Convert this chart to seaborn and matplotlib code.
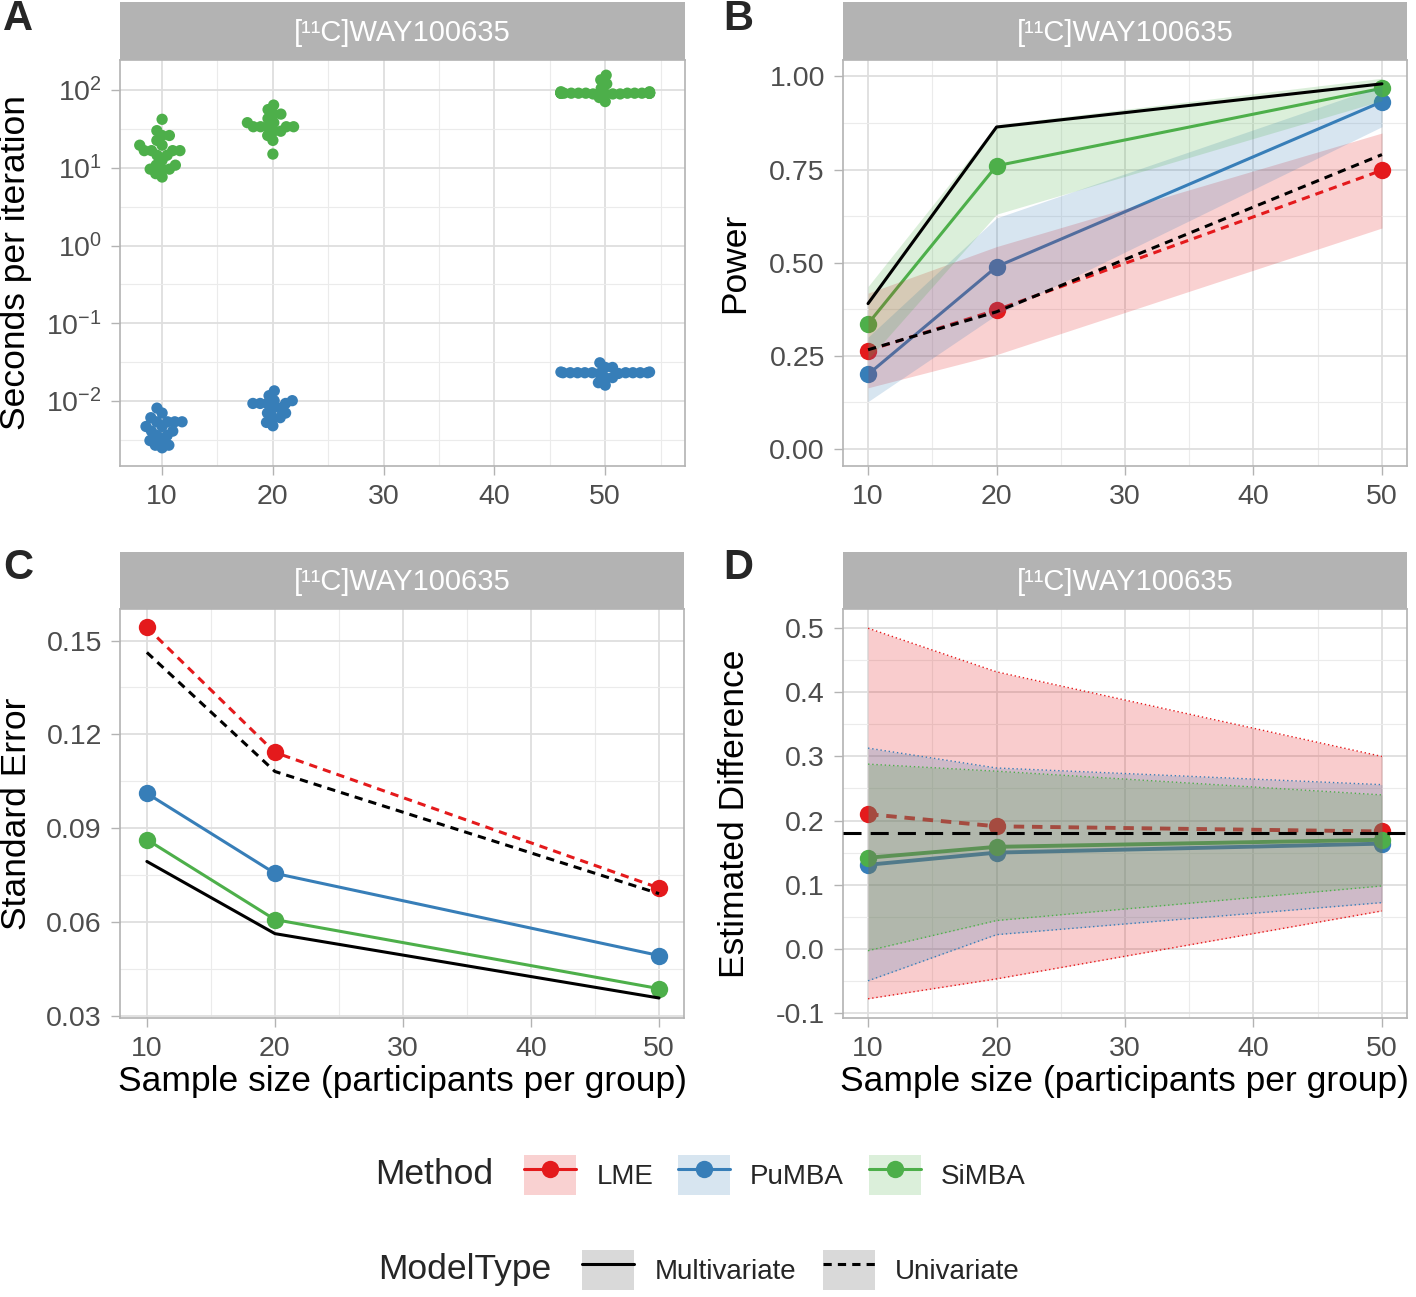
import numpy as np
import pandas as pd
import matplotlib
matplotlib.use('Agg')
import matplotlib.pyplot as plt
import seaborn as sns
from matplotlib.lines import Line2D
from matplotlib.patches import Patch
from matplotlib.legend_handler import HandlerTuple
from matplotlib.ticker import FixedLocator, NullFormatter

sns.set_style('white')
plt.rcParams['font.family'] = ['Liberation Sans', 'DejaVu Sans']
plt.rcParams['mathtext.fontset'] = 'custom'
plt.rcParams['mathtext.rm'] = 'Liberation Sans'
plt.rcParams['mathtext.it'] = 'Liberation Sans:italic'
plt.rcParams['mathtext.bf'] = 'Liberation Sans:bold'

# ---- data ----
sample_sizes = [10, 20, 50]
methods = ['LME', 'PuMBA', 'SiMBA']
model_type = {'LME': 'Univariate', 'PuMBA': 'Multivariate', 'SiMBA': 'Multivariate'}
colors = {'LME': '#E41A1C', 'PuMBA': '#377EB8', 'SiMBA': '#4DAF4A'}
tracer = '[¹¹C]WAY100635'

# A: seconds per iteration, swarm read as (value, count)
simba_10_sec = [42, 30, 26, 22.5, 19.5, 16.6, 14.5, 12.5, 10.8, 9.6, 8.4, 7.6]
simba_10_cnt = [1, 1, 2, 1, 2, 4, 2, 1, 2, 3, 1, 1]
simba_20_sec = [64, 56, 49, 43, 38, 33.7, 29.5, 26, 22.5, 15]
simba_20_cnt = [1, 1, 2, 1, 2, 5, 2, 1, 1, 1]
simba_50_sec = [155, 135, 120, 105, 95, 92.5, 91, 89, 80, 71]
simba_50_cnt = [1, 1, 1, 1, 2, 4, 14, 4, 1, 1]
pumba_10_sec = [0.0081, 0.007, 0.0061, 0.0054, 0.0047, 0.0041, 0.0036, 0.0031, 0.0027, 0.0025]
pumba_10_cnt = [1, 1, 1, 4, 2, 2, 2, 2, 2, 1]
pumba_20_sec = [0.0135, 0.0117, 0.0101, 0.0093, 0.0081, 0.007, 0.0061, 0.0053, 0.0048]
pumba_20_cnt = [1, 1, 2, 4, 2, 2, 2, 1, 1]
pumba_50_sec = [0.031, 0.027, 0.0236, 0.0231, 0.0226, 0.0200, 0.0172, 0.016]
pumba_50_cnt = [1, 2, 2, 9, 2, 2, 1, 1]

# B: power
power = {'LME': [0.264, 0.373, 0.748], 'PuMBA': [0.200, 0.489, 0.932], 'SiMBA': [0.336, 0.760, 0.968]}
power_lo = {'LME': [0.164, 0.253, 0.593], 'PuMBA': [0.127, 0.36, 0.865], 'SiMBA': [0.24, 0.63, 0.935]}
power_hi = {'LME': [0.418, 0.543, 0.848], 'PuMBA': [0.30, 0.62, 0.975], 'SiMBA': [0.436, 0.87, 0.995]}
power_ref_multi = [0.390, 0.864, 0.980]
power_ref_uni = [0.266, 0.368, 0.790]

# C: standard error
se = {'LME': [0.1542, 0.1142, 0.0708], 'PuMBA': [0.1011, 0.0755, 0.0492], 'SiMBA': [0.0863, 0.0607, 0.0386]}
se_ref_multi = [0.0793, 0.0562, 0.0356]
se_ref_uni = [0.1462, 0.1081, 0.0690]

# D: estimated difference
est = {'LME': [0.210, 0.191, 0.183], 'PuMBA': [0.131, 0.150, 0.164], 'SiMBA': [0.142, 0.159, 0.170]}
est_lo = {'LME': [-0.078, -0.047, 0.059], 'PuMBA': [-0.050, 0.022, 0.072], 'SiMBA': [-0.003, 0.044, 0.098]}
est_hi = {'LME': [0.500, 0.432, 0.300], 'PuMBA': [0.313, 0.282, 0.256], 'SiMBA': [0.288, 0.277, 0.240]}
true_diff = 0.18

# ---- layout helpers ----
W, H = 1416, 1297
fig = plt.figure(figsize=(W / 100, H / 100), dpi=100)


def box(l, t, r, b):
    return [l / W, 1 - b / H, (r - l) / W, (b - t) / H]


def add_strip(l, t, r, b):
    sax = fig.add_axes(box(l, t, r, b))
    sax.set_facecolor('#b3b3b3')
    sax.set_xticks([])
    sax.set_yticks([])
    for s in sax.spines.values():
        s.set_visible(False)
    sax.text(0.5, 0.47, tracer, color='white', fontsize=21, ha='center', va='center',
             transform=sax.transAxes)


def style_panel(ax, xlim, ylim, yticks, yminor, xminor):
    ax.set_xlim(xlim)
    ax.set_ylim(ylim)
    ax.set_xticks([10, 20, 30, 40, 50])
    ax.set_yticks(yticks)
    ax.xaxis.set_minor_locator(FixedLocator(xminor))
    ax.yaxis.set_minor_locator(FixedLocator(yminor))
    ax.yaxis.set_minor_formatter(NullFormatter())
    ax.grid(which='major', color='#dedede', lw=1.3)
    ax.grid(which='minor', color='#ebebeb', lw=0.8)
    ax.set_axisbelow(True)
    for s in ax.spines.values():
        s.set_color('#b3b3b3')
        s.set_linewidth(1.2)
    ax.tick_params(which='major', bottom=True, left=True, length=6.5, width=1, color='#b3b3b3',
                   labelsize=20.5, labelcolor='#4d4d4d', pad=6.5)
    ax.tick_params(which='minor', length=0)


def lines(ax, vals, lw=2.2, z=2):
    df = pd.DataFrame({
        'n': sample_sizes * 3,
        'value': vals['LME'] + vals['PuMBA'] + vals['SiMBA'],
        'Method': [m for m in methods for _ in sample_sizes],
        'ModelType': [model_type[m] for m in methods for _ in sample_sizes],
    })
    sns.lineplot(data=df, x='n', y='value', hue='Method', style='ModelType', palette=colors,
                 dashes={'Multivariate': '', 'Univariate': (2.7, 2)},
                 markers={'Multivariate': 'o', 'Univariate': 'o'}, markersize=12.5,
                 markeredgewidth=0, lw=lw, legend=False, ax=ax, zorder=z)


# ---- A ----
axA = fig.add_axes(box(120, 60, 685, 466))
add_strip(120, 2, 685, 60)
axA.set_yscale('log')
style_panel(axA, (6.2, 57.2), (10 ** -2.836, 10 ** 2.386), [1e-2, 1e-1, 1, 10, 100],
            [10 ** -2.5, 10 ** -1.5, 10 ** -0.5, 10 ** 0.5, 10 ** 1.5], [15, 25, 35, 45, 55])
axA.set_yticklabels([r'$\mathregular{10^{-2}}$', r'$\mathregular{10^{-1}}$', r'$\mathregular{10^{0}}$',
                     r'$\mathregular{10^{1}}$', r'$\mathregular{10^{2}}$'])
rowsA = []
for m, n, secs, cnts in [('PuMBA', 10, pumba_10_sec, pumba_10_cnt), ('PuMBA', 20, pumba_20_sec, pumba_20_cnt),
                         ('PuMBA', 50, pumba_50_sec, pumba_50_cnt), ('SiMBA', 10, simba_10_sec, simba_10_cnt),
                         ('SiMBA', 20, simba_20_sec, simba_20_cnt), ('SiMBA', 50, simba_50_sec, simba_50_cnt)]:
    for v, c in zip(secs, cnts):
        rowsA += [(m, n, v)] * c
dfA = pd.DataFrame(rowsA, columns=['Method', 'n', 'seconds'])
sns.swarmplot(data=dfA, x='n', y='seconds', hue='Method', palette=colors, native_scale=True,
              size=5, legend=False, warn_thresh=1, ax=axA)
axA.set_xlim(6.2, 57.2)
axA.set_ylim(10 ** -2.836, 10 ** 2.386)
# lay the swarm out with small dots, then freeze it and draw the dots larger (beeswarm look)
fig.canvas.draw()
for coll in axA.collections:
    if 'draw' in coll.__dict__:
        del coll.draw
    coll.set_sizes([66])
axA.set_xlabel('')
axA.set_ylabel('Seconds per iteration', fontsize=25.5, color='black')
axA.yaxis.set_label_coords(-0.155, 0.5)

# ---- B ----
axB = fig.add_axes(box(843, 60, 1407, 466))
add_strip(843, 2, 1407, 60)
style_panel(axB, (8.05, 51.95), (-0.046, 1.044), [0, 0.25, 0.5, 0.75, 1.0],
            [0.125, 0.375, 0.625, 0.875], [15, 25, 35, 45])
axB.set_yticklabels(['0.00', '0.25', '0.50', '0.75', '1.00'])
lines(axB, power)
for m in methods:
    axB.fill_between(sample_sizes, power_lo[m], power_hi[m], color=colors[m], alpha=0.2, lw=0, zorder=3)
sns.lineplot(x=sample_sizes, y=power_ref_multi, color='black', lw=2.2, ax=axB, zorder=4)
sns.lineplot(x=sample_sizes, y=power_ref_uni, color='black', lw=2.2, ls=(0, (2.7, 2)), ax=axB, zorder=4)
axB.set_xlabel('')
axB.set_ylabel('Power', fontsize=25.5, color='black')
axB.yaxis.set_label_coords(-0.163, 0.5)

# ---- C ----
axC = fig.add_axes(box(120, 609, 684, 1018))
add_strip(120, 552, 684, 609)
style_panel(axC, (7.9, 51.95), (0.0292, 0.1601), [0.03, 0.06, 0.09, 0.12, 0.15],
            [0.045, 0.075, 0.105, 0.135], [15, 25, 35, 45])
axC.set_yticklabels(['0.03', '0.06', '0.09', '0.12', '0.15'])
lines(axC, se)
sns.lineplot(x=sample_sizes, y=se_ref_multi, color='black', lw=2.2, ax=axC, zorder=4)
sns.lineplot(x=sample_sizes, y=se_ref_uni, color='black', lw=2.2, ls=(0, (2.7, 2)), ax=axC, zorder=4)
axC.set_xlabel('Sample size (participants per group)', fontsize=25.5, color='black')
axC.xaxis.set_label_coords(0.5, -0.115)
axC.set_ylabel('Standard Error', fontsize=25.5, color='black')
axC.yaxis.set_label_coords(-0.155, 0.5)

# ---- D ----
axD = fig.add_axes(box(843, 609, 1407, 1018))
add_strip(843, 552, 1407, 609)
style_panel(axD, (8.05, 51.95), (-0.108, 0.530), [-0.1, 0, 0.1, 0.2, 0.3, 0.4, 0.5],
            [-0.05, 0.05, 0.15, 0.25, 0.35, 0.45], [15, 25, 35, 45])
axD.set_yticklabels(['-0.1', '0.0', '0.1', '0.2', '0.3', '0.4', '0.5'])
lines(axD, est, lw=2.8)
for m in methods:
    axD.fill_between(sample_sizes, est_lo[m], est_hi[m], color=colors[m], alpha=0.22, lw=0, zorder=3)
    axD.plot(sample_sizes, est_lo[m], color=colors[m], lw=1.0, ls=(0, (1, 2)), zorder=3)
    axD.plot(sample_sizes, est_hi[m], color=colors[m], lw=1.0, ls=(0, (1, 2)), zorder=3)
axD.axhline(true_diff, color='black', lw=2.2, ls=(0, (5.9, 3)), zorder=5)
axD.set_xlabel('Sample size (participants per group)', fontsize=25.5, color='black')
axD.xaxis.set_label_coords(0.5, -0.115)
axD.set_ylabel('Estimated Difference', fontsize=25.5, color='black')
axD.yaxis.set_label_coords(-0.163, 0.5)

# ---- panel letters ----
for letter, (px, py) in zip('ABCD', [(18, 19), (738, 19), (18, 568), (738, 568)]):
    fig.text(px / W, 1 - py / H, letter, fontsize=30, fontweight='bold', ha='center', va='center')

# ---- legends ----
hm = {tuple: HandlerTuple(ndivide=1)}
handles_m = [(Patch(facecolor=colors[m], alpha=0.2, edgecolor='none'),
              Line2D([], [], color=colors[m], lw=2.2, marker='o', ms=12.5, mew=0)) for m in methods]
fig.legend(handles_m, methods, loc='center', bbox_to_anchor=(775 / W, 1 - 1175 / H), ncol=3,
           frameon=False, fontsize=20, handlelength=1.87, handleheight=1.87, handletextpad=0.72,
           columnspacing=0.9, handler_map=hm)
handles_t = [(Patch(facecolor='#d9d9d9', edgecolor='none'), Line2D([], [], color='black', lw=2.2)),
             (Patch(facecolor='#d9d9d9', edgecolor='none'),
              Line2D([], [], color='black', lw=2.2, ls=(0, (2.7, 2))))]
fig.legend(handles_t, ['Multivariate', 'Univariate'], loc='center', bbox_to_anchor=(801 / W, 1 - 1270 / H),
           ncol=2, frameon=False, fontsize=20, handlelength=1.87, handleheight=1.87, handletextpad=0.72,
           columnspacing=0.97, handler_map=hm)
fig.text(375 / W, 1 - 1175 / H, 'Method', fontsize=25.5, ha='left', va='center')
fig.text(378 / W, 1 - 1270 / H, 'ModelType', fontsize=25.5, ha='left', va='center')

fig.savefig('out.png', dpi=100)
